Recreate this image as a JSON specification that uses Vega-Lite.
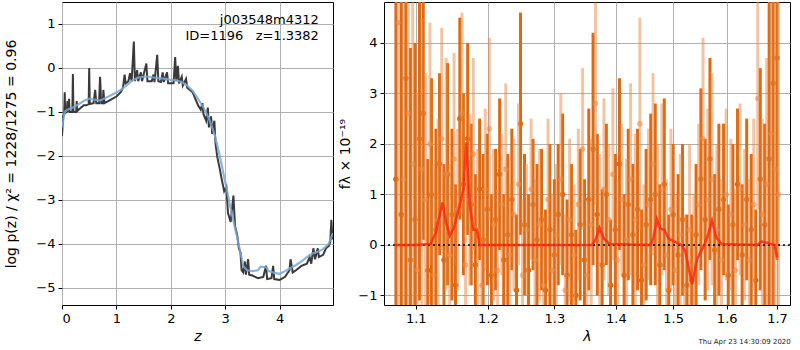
{
  "$schema": "https://vega.github.io/schema/vega-lite/v6.json",
  "padding": {"left": 4, "top": 1, "right": 3, "bottom": 0},
  "spacing": 4,
  "config": {
    "font": "DejaVu Sans",
    "view": {"stroke": "black", "strokeWidth": 1},
    "axis": {"grid": true, "gridColor": "#b0b0b0", "gridWidth": 1, "domain": false, "tickColor": "black", "tickSize": 4, "labelFontSize": 13, "labelColor": "black", "titleFontSize": 14, "titleFontWeight": "normal", "titleColor": "black", "labelPadding": 3}
  },
  "datasets": {
    "pzdark": [
      {"z":0.00,"v":-1.55},{"z":0.02,"v":-1.1},{"z":0.04,"v":-1.05},{"z":0.05,"v":-0.55},{"z":0.06,"v":-1.02},{"z":0.09,"v":-1.0},{"z":0.10,"v":-0.75},{"z":0.11,"v":-1.0},{"z":0.13,"v":-0.7},{"z":0.14,"v":-1.0},{"z":0.19,"v":-1.0},{"z":0.20,"v":-0.14},{"z":0.21,"v":-1.0},{"z":0.26,"v":-1.0},{"z":0.27,"v":-0.75},{"z":0.28,"v":-0.98},{"z":0.35,"v":-0.9},{"z":0.40,"v":-0.85},{"z":0.45,"v":-0.85},{"z":0.49,"v":-0.82},{"z":0.50,"v":0.0},{"z":0.51,"v":-0.82},{"z":0.58,"v":-0.8},{"z":0.61,"v":-0.5},{"z":0.63,"v":-0.8},{"z":0.68,"v":-0.8},{"z":0.70,"v":-0.2},{"z":0.72,"v":-0.8},{"z":0.75,"v":-0.8},{"z":0.76,"v":-0.5},{"z":0.78,"v":-0.8},{"z":0.90,"v":-0.72},{"z":1.00,"v":-0.65},{"z":1.08,"v":-0.55},{"z":1.12,"v":-0.45},{"z":1.15,"v":-0.15},{"z":1.17,"v":-0.35},{"z":1.22,"v":-0.3},{"z":1.25,"v":-0.12},{"z":1.28,"v":-0.3},{"z":1.32,"v":0.6},{"z":1.34,"v":-0.3},{"z":1.38,"v":-0.05},{"z":1.40,"v":-0.3},{"z":1.45,"v":-0.1},{"z":1.47,"v":-0.3},{"z":1.55,"v":0.1},{"z":1.57,"v":-0.3},{"z":1.65,"v":-0.3},{"z":1.68,"v":-0.15},{"z":1.70,"v":-0.32},{"z":1.75,"v":0.3},{"z":1.77,"v":-0.3},{"z":1.82,"v":-0.32},{"z":1.85,"v":-0.1},{"z":1.87,"v":-0.32},{"z":1.93,"v":-0.1},{"z":1.95,"v":-0.35},{"z":2.05,"v":-0.35},{"z":2.08,"v":0.25},{"z":2.10,"v":-0.3},{"z":2.13,"v":0.05},{"z":2.15,"v":-0.35},{"z":2.20,"v":-0.2},{"z":2.22,"v":-0.4},{"z":2.28,"v":-0.25},{"z":2.30,"v":-0.45},{"z":2.35,"v":-0.5},{"z":2.40,"v":-0.55},{"z":2.45,"v":-0.7},{"z":2.50,"v":-0.85},{"z":2.55,"v":-0.95},{"z":2.58,"v":-0.8},{"z":2.60,"v":-1.05},{"z":2.65,"v":-1.2},{"z":2.68,"v":-0.9},{"z":2.70,"v":-1.35},{"z":2.74,"v":-1.1},{"z":2.76,"v":-1.5},{"z":2.80,"v":-1.2},{"z":2.82,"v":-1.7},{"z":2.85,"v":-2.0},{"z":2.90,"v":-2.3},{"z":2.93,"v":-2.5},{"z":2.98,"v":-2.8},{"z":3.02,"v":-2.7},{"z":3.05,"v":-3.3},{"z":3.10,"v":-3.5},{"z":3.15,"v":-2.9},{"z":3.18,"v":-3.6},{"z":3.22,"v":-3.8},{"z":3.25,"v":-4.1},{"z":3.28,"v":-4.2},{"z":3.30,"v":-4.6},{"z":3.33,"v":-4.65},{"z":3.36,"v":-4.4},{"z":3.38,"v":-4.7},{"z":3.42,"v":-4.35},{"z":3.44,"v":-4.7},{"z":3.50,"v":-4.72},{"z":3.60,"v":-4.78},{"z":3.70,"v":-4.75},{"z":3.75,"v":-4.5},{"z":3.77,"v":-4.8},{"z":3.85,"v":-4.78},{"z":3.88,"v":-4.5},{"z":3.90,"v":-4.8},{"z":4.00,"v":-4.82},{"z":4.10,"v":-4.75},{"z":4.18,"v":-4.6},{"z":4.20,"v":-4.35},{"z":4.24,"v":-4.65},{"z":4.30,"v":-4.6},{"z":4.40,"v":-4.5},{"z":4.50,"v":-4.45},{"z":4.55,"v":-4.3},{"z":4.58,"v":-4.45},{"z":4.62,"v":-4.1},{"z":4.65,"v":-4.35},{"z":4.70,"v":-4.1},{"z":4.72,"v":-4.3},{"z":4.80,"v":-4.25},{"z":4.85,"v":-4.1},{"z":4.90,"v":-4.05},{"z":4.93,"v":-3.95},{"z":4.95,"v":-3.45},{"z":4.97,"v":-3.9},{"z":4.98,"v":-3.8}
    ],
    "pzblue": [
      {"z":0,"v":-1.35},{"z":0.05,"v":-1.0},{"z":0.1,"v":-0.95},{"z":0.2,"v":-0.9},{"z":0.3,"v":-0.83},{"z":0.4,"v":-0.75},{"z":0.5,"v":-0.7},{"z":0.6,"v":-0.72},{"z":0.7,"v":-0.74},{"z":0.8,"v":-0.68},{"z":0.9,"v":-0.62},{"z":1.0,"v":-0.56},{"z":1.1,"v":-0.48},{"z":1.2,"v":-0.38},{"z":1.3,"v":-0.28},{"z":1.4,"v":-0.22},{"z":1.5,"v":-0.2},{"z":1.6,"v":-0.2},{"z":1.7,"v":-0.22},{"z":1.8,"v":-0.23},{"z":1.9,"v":-0.25},{"z":2.0,"v":-0.27},{"z":2.1,"v":-0.28},{"z":2.2,"v":-0.32},{"z":2.3,"v":-0.4},{"z":2.4,"v":-0.52},{"z":2.5,"v":-0.7},{"z":2.6,"v":-0.9},{"z":2.7,"v":-1.15},{"z":2.8,"v":-1.5},{"z":2.9,"v":-2.0},{"z":3.0,"v":-2.6},{"z":3.1,"v":-3.2},{"z":3.2,"v":-3.75},{"z":3.28,"v":-4.2},{"z":3.33,"v":-4.5},{"z":3.4,"v":-4.6},{"z":3.5,"v":-4.62},{"z":3.6,"v":-4.6},{"z":3.65,"v":-4.52},{"z":3.75,"v":-4.53},{"z":3.8,"v":-4.62},{"z":3.9,"v":-4.66},{"z":4.0,"v":-4.68},{"z":4.1,"v":-4.62},{"z":4.2,"v":-4.55},{"z":4.3,"v":-4.48},{"z":4.4,"v":-4.4},{"z":4.5,"v":-4.3},{"z":4.6,"v":-4.22},{"z":4.7,"v":-4.18},{"z":4.8,"v":-4.12},{"z":4.9,"v":-4.0},{"z":4.98,"v":-3.75}
    ],
    "dark": [
      {"l":1.074,"f":1.3,"lo":-4.2,"hi":6.8},{"l":1.081,"f":0.6,"lo":-3.9,"hi":5.1},{"l":1.087,"f":3.3,"lo":-1.7,"hi":8.3},{"l":1.093,"f":-0.3,"lo":-4.5,"hi":3.9},{"l":1.099,"f":0.5,"lo":-3.0,"hi":4.0},{"l":1.105,"f":2.1,"lo":-1.1,"hi":5.3},{"l":1.110,"f":2.6,"lo":0.1,"hi":5.1},{"l":1.116,"f":-0.5,"lo":-2.7,"hi":1.7},{"l":1.121,"f":1.0,"lo":-1.3,"hi":3.3},{"l":1.127,"f":0.3,"lo":-1.7,"hi":2.3},{"l":1.132,"f":1.6,"lo":-0.2,"hi":3.4},{"l":1.138,"f":-0.3,"lo":-2.2,"hi":1.6},{"l":1.143,"f":1.4,"lo":-0.8,"hi":3.6},{"l":1.149,"f":0.6,"lo":-1.1,"hi":2.3},{"l":1.154,"f":-0.8,"lo":-2.8,"hi":1.2},{"l":1.160,"f":2.5,"lo":0.5,"hi":4.5},{"l":1.165,"f":1.2,"lo":-0.6,"hi":3.0},{"l":1.171,"f":2.1,"lo":0.2,"hi":4.0},{"l":1.176,"f":0.8,"lo":-0.8,"hi":2.4},{"l":1.182,"f":-0.4,"lo":-2.2,"hi":1.4},{"l":1.188,"f":1.1,"lo":-0.3,"hi":2.5},{"l":1.193,"f":0.1,"lo":-1.6,"hi":1.8},{"l":1.199,"f":0.7,"lo":-0.8,"hi":2.2},{"l":1.205,"f":-0.6,"lo":-2.2,"hi":1.0},{"l":1.211,"f":0.5,"lo":-0.9,"hi":1.9},{"l":1.217,"f":1.4,"lo":-0.1,"hi":2.9},{"l":1.223,"f":-0.3,"lo":-1.6,"hi":1.0},{"l":1.229,"f":0.2,"lo":-1.4,"hi":1.8},{"l":1.235,"f":0.9,"lo":-0.5,"hi":2.3},{"l":1.242,"f":-0.9,"lo":-2.4,"hi":0.6},{"l":1.248,"f":2.4,"lo":0.2,"hi":4.6},{"l":1.254,"f":0.4,"lo":-1.0,"hi":1.8},{"l":1.260,"f":-0.5,"lo":-2.0,"hi":1.0},{"l":1.267,"f":0.8,"lo":-0.5,"hi":2.1},{"l":1.273,"f":0.1,"lo":-1.4,"hi":1.6},{"l":1.280,"f":0.5,"lo":-0.9,"hi":1.9},{"l":1.286,"f":-0.9,"lo":-2.5,"hi":0.7},{"l":1.293,"f":0.3,"lo":-1.4,"hi":2.0},{"l":1.300,"f":-0.2,"lo":-1.7,"hi":1.3},{"l":1.306,"f":0.6,"lo":-0.8,"hi":2.0},{"l":1.313,"f":1.0,"lo":-0.6,"hi":2.6},{"l":1.320,"f":-0.6,"lo":-2.1,"hi":0.9},{"l":1.327,"f":0.2,"lo":-1.2,"hi":1.6},{"l":1.334,"f":-1.0,"lo":-2.3,"hi":0.3},{"l":1.341,"f":0.4,"lo":-1.1,"hi":1.9},{"l":1.348,"f":-0.3,"lo":-1.9,"hi":1.3},{"l":1.355,"f":0.9,"lo":-0.9,"hi":2.7},{"l":1.362,"f":1.9,"lo":-0.4,"hi":4.2},{"l":1.369,"f":0.6,"lo":-1.0,"hi":2.2},{"l":1.377,"f":-0.4,"lo":-1.9,"hi":1.1},{"l":1.384,"f":1.0,"lo":-0.4,"hi":2.4},{"l":1.391,"f":-0.8,"lo":-2.1,"hi":0.5},{"l":1.399,"f":0.3,"lo":-1.2,"hi":1.8},{"l":1.406,"f":1.6,"lo":-0.1,"hi":3.3},{"l":1.414,"f":-0.6,"lo":-2.2,"hi":1.0},{"l":1.421,"f":0.8,"lo":-0.7,"hi":2.3},{"l":1.429,"f":0.2,"lo":-1.2,"hi":1.6},{"l":1.437,"f":0.7,"lo":-0.9,"hi":2.3},{"l":1.444,"f":-0.7,"lo":-2.1,"hi":0.7},{"l":1.452,"f":0.4,"lo":-1.1,"hi":1.9},{"l":1.460,"f":0.9,"lo":-0.8,"hi":2.6},{"l":1.468,"f":1.0,"lo":-0.8,"hi":2.8},{"l":1.476,"f":-0.4,"lo":-2.0,"hi":1.2},{"l":1.484,"f":1.2,"lo":-0.5,"hi":2.9},{"l":1.492,"f":-0.9,"lo":-2.4,"hi":0.6},{"l":1.500,"f":0.6,"lo":-0.8,"hi":2.0},{"l":1.509,"f":-0.2,"lo":-1.8,"hi":1.4},{"l":1.517,"f":0.5,"lo":-1.0,"hi":2.0},{"l":1.525,"f":-0.8,"lo":-2.2,"hi":0.6},{"l":1.534,"f":-0.7,"lo":-2.0,"hi":0.6},{"l":1.542,"f":0.2,"lo":-1.2,"hi":1.6},{"l":1.551,"f":1.3,"lo":-0.5,"hi":3.1},{"l":1.559,"f":0.5,"lo":-1.1,"hi":2.1},{"l":1.568,"f":1.7,"lo":-0.3,"hi":3.7},{"l":1.577,"f":-0.1,"lo":-1.6,"hi":1.4},{"l":1.585,"f":0.7,"lo":-1.0,"hi":2.4},{"l":1.594,"f":0.9,"lo":-0.6,"hi":2.4},{"l":1.603,"f":-0.6,"lo":-2.0,"hi":0.8},{"l":1.612,"f":0.4,"lo":-1.2,"hi":2.0},{"l":1.621,"f":1.2,"lo":-0.3,"hi":2.7},{"l":1.630,"f":-0.2,"lo":-1.6,"hi":1.2},{"l":1.639,"f":0.9,"lo":-0.7,"hi":2.5},{"l":1.648,"f":0.3,"lo":-1.2,"hi":1.8},{"l":1.657,"f":-0.7,"lo":-2.1,"hi":0.7},{"l":1.666,"f":1.3,"lo":-0.9,"hi":3.5},{"l":1.675,"f":0.4,"lo":-1.6,"hi":2.4},{"l":1.684,"f":1.7,"lo":-1.8,"hi":5.2},{"l":1.692,"f":3.2,"lo":-1.3,"hi":7.7},{"l":1.700,"f":3.7,"lo":-0.3,"hi":7.7}
    ],
    "light": [
      {"l":1.077,"f":4.4,"lo":-1.6,"hi":10.4},{"l":1.084,"f":1.3,"lo":-3.7,"hi":6.3},{"l":1.090,"f":2.6,"lo":-1.9,"hi":7.1},{"l":1.096,"f":1.6,"lo":-2.4,"hi":5.6},{"l":1.102,"f":-0.5,"lo":-4.0,"hi":3.0},{"l":1.108,"f":1.5,"lo":-1.5,"hi":4.5},{"l":1.113,"f":0.9,"lo":-1.6,"hi":3.4},{"l":1.119,"f":2.0,"lo":-0.4,"hi":4.4},{"l":1.124,"f":-0.6,"lo":-2.8,"hi":1.6},{"l":1.130,"f":0.5,"lo":-1.5,"hi":2.5},{"l":1.135,"f":2.1,"lo":-0.1,"hi":4.3},{"l":1.141,"f":1.4,"lo":-0.9,"hi":3.7},{"l":1.146,"f":-0.2,"lo":-2.0,"hi":1.6},{"l":1.152,"f":1.7,"lo":-0.4,"hi":3.8},{"l":1.157,"f":0.7,"lo":-0.9,"hi":2.3},{"l":1.163,"f":2.6,"lo":0.6,"hi":4.6},{"l":1.168,"f":-0.4,"lo":-2.2,"hi":1.4},{"l":1.174,"f":0.9,"lo":-0.8,"hi":2.6},{"l":1.179,"f":1.8,"lo":-0.1,"hi":3.7},{"l":1.185,"f":0.3,"lo":-1.3,"hi":1.9},{"l":1.191,"f":-0.8,"lo":-2.5,"hi":0.9},{"l":1.196,"f":1.1,"lo":-0.5,"hi":2.7},{"l":1.202,"f":2.3,"lo":0.5,"hi":4.1},{"l":1.208,"f":0.4,"lo":-1.1,"hi":1.9},{"l":1.214,"f":-0.5,"lo":-2.1,"hi":1.1},{"l":1.220,"f":0.8,"lo":-0.6,"hi":2.2},{"l":1.226,"f":1.5,"lo":-0.2,"hi":3.2},{"l":1.232,"f":-0.2,"lo":-1.6,"hi":1.2},{"l":1.238,"f":0.6,"lo":-0.9,"hi":2.1},{"l":1.245,"f":1.2,"lo":-0.4,"hi":2.8},{"l":1.251,"f":-0.6,"lo":-2.1,"hi":0.9},{"l":1.257,"f":0.3,"lo":-1.0,"hi":1.6},{"l":1.264,"f":1.1,"lo":-0.3,"hi":2.5},{"l":1.270,"f":-0.3,"lo":-1.9,"hi":1.3},{"l":1.277,"f":0.4,"lo":-1.1,"hi":1.9},{"l":1.283,"f":-0.8,"lo":-2.2,"hi":0.6},{"l":1.290,"f":0.9,"lo":-0.7,"hi":2.5},{"l":1.297,"f":-0.5,"lo":-2.0,"hi":1.0},{"l":1.303,"f":0.2,"lo":-1.2,"hi":1.6},{"l":1.310,"f":1.3,"lo":-0.4,"hi":3.0},{"l":1.317,"f":-0.9,"lo":-2.4,"hi":0.6},{"l":1.324,"f":0.5,"lo":-1.1,"hi":2.1},{"l":1.331,"f":-0.2,"lo":-1.6,"hi":1.2},{"l":1.338,"f":0.8,"lo":-0.7,"hi":2.3},{"l":1.345,"f":1.9,"lo":0.3,"hi":3.5},{"l":1.352,"f":-0.6,"lo":-2.1,"hi":0.9},{"l":1.359,"f":0.4,"lo":-1.3,"hi":2.1},{"l":1.366,"f":2.8,"lo":0.8,"hi":4.8},{"l":1.373,"f":0.2,"lo":-1.4,"hi":1.8},{"l":1.380,"f":1.1,"lo":-0.7,"hi":2.9},{"l":1.388,"f":0.5,"lo":-1.0,"hi":2.0},{"l":1.395,"f":1.4,"lo":-0.3,"hi":3.1},{"l":1.403,"f":-0.3,"lo":-1.9,"hi":1.3},{"l":1.410,"f":0.9,"lo":-0.6,"hi":2.4},{"l":1.418,"f":0.1,"lo":-1.5,"hi":1.7},{"l":1.425,"f":1.3,"lo":-0.6,"hi":3.2},{"l":1.433,"f":0.5,"lo":-1.2,"hi":2.2},{"l":1.441,"f":2.4,"lo":0.3,"hi":4.5},{"l":1.448,"f":-0.4,"lo":-2.0,"hi":1.2},{"l":1.456,"f":0.8,"lo":-0.7,"hi":2.3},{"l":1.464,"f":1.6,"lo":-0.2,"hi":3.4},{"l":1.472,"f":0.4,"lo":-1.2,"hi":2.0},{"l":1.480,"f":1.1,"lo":-0.6,"hi":2.8},{"l":1.488,"f":-0.2,"lo":-1.7,"hi":1.3},{"l":1.496,"f":0.7,"lo":-0.9,"hi":2.3},{"l":1.504,"f":-0.5,"lo":-2.0,"hi":1.0},{"l":1.513,"f":0.2,"lo":-1.4,"hi":1.8},{"l":1.521,"f":-0.9,"lo":-2.4,"hi":0.6},{"l":1.530,"f":0.3,"lo":-1.4,"hi":2.0},{"l":1.538,"f":-0.4,"lo":-1.8,"hi":1.0},{"l":1.547,"f":0.8,"lo":-0.8,"hi":2.4},{"l":1.555,"f":2.1,"lo":0.1,"hi":4.1},{"l":1.564,"f":0.9,"lo":-0.9,"hi":2.7},{"l":1.572,"f":1.3,"lo":-0.8,"hi":3.4},{"l":1.581,"f":0.3,"lo":-1.4,"hi":2.0},{"l":1.590,"f":-0.3,"lo":-1.9,"hi":1.3},{"l":1.599,"f":1.0,"lo":-0.7,"hi":2.7},{"l":1.608,"f":0.6,"lo":-0.9,"hi":2.1},{"l":1.617,"f":-0.5,"lo":-2.1,"hi":1.1},{"l":1.626,"f":1.1,"lo":-0.6,"hi":2.8},{"l":1.635,"f":0.4,"lo":-1.1,"hi":1.9},{"l":1.644,"f":-0.3,"lo":-1.9,"hi":1.3},{"l":1.653,"f":0.8,"lo":-0.9,"hi":2.5},{"l":1.661,"f":2.9,"lo":0.7,"hi":5.1},{"l":1.670,"f":0.6,"lo":-1.3,"hi":2.5},{"l":1.679,"f":1.2,"lo":-1.3,"hi":3.7},{"l":1.688,"f":2.2,"lo":-2.8,"hi":7.2},{"l":1.696,"f":1.5,"lo":-4.5,"hi":7.5},{"l":1.703,"f":1.0,"lo":-5.0,"hi":7.0}
    ],
    "model": [
      {"l":1.0724,"m":0},{"l":1.10,"m":0},{"l":1.12,"m":0.02},{"l":1.127,"m":0.25},{"l":1.1359,"m":0.84},{"l":1.141,"m":0.45},{"l":1.146,"m":0.18},{"l":1.152,"m":0.35},{"l":1.160,"m":0.8},{"l":1.165,"m":1.1},{"l":1.169,"m":2.03},{"l":1.174,"m":0.8},{"l":1.179,"m":0.3},{"l":1.184,"m":0.3},{"l":1.188,"m":0.0},{"l":1.36,"m":0.0},{"l":1.366,"m":0.1},{"l":1.3726,"m":0.34},{"l":1.38,"m":0.12},{"l":1.39,"m":0.02},{"l":1.46,"m":0.0},{"l":1.465,"m":0.15},{"l":1.471,"m":0.51},{"l":1.477,"m":0.32},{"l":1.484,"m":0.3},{"l":1.492,"m":0.12},{"l":1.505,"m":0.05},{"l":1.515,"m":0.0},{"l":1.522,"m":-0.12},{"l":1.5345,"m":-0.78},{"l":1.544,"m":-0.28},{"l":1.555,"m":-0.05},{"l":1.563,"m":0.15},{"l":1.572,"m":0.48},{"l":1.58,"m":0.15},{"l":1.59,"m":0.02},{"l":1.66,"m":0.0},{"l":1.669,"m":0.07},{"l":1.68,"m":0.04},{"l":1.695,"m":0.0},{"l":1.70,"m":-0.25}
    ]
  },
  "hconcat": [
    {
      "width": 271,
      "height": 303,
      "layer": [
        {
          "data": {"name": "pzdark"},
          "mark": {"type": "line", "color": "#3a3a3a", "strokeWidth": 2, "clip": true},
          "encoding": {
            "x": {"field": "z", "type": "quantitative", "scale": {"domain": [0, 4.98], "nice": false, "zero": false}, "axis": {"values": [0, 1, 2, 3, 4], "title": "z", "titleFontStyle": "italic"}},
            "y": {"field": "v", "type": "quantitative", "scale": {"domain": [-5.39, 1.5], "nice": false, "zero": false}, "axis": {"values": [-5, -4, -3, -2, -1, 0, 1], "title": "log p(z) / χ² = 1228/1275 = 0.96", "titlePadding": 17}}
          }
        },
        {
          "data": {"name": "pzblue"},
          "mark": {"type": "line", "color": "#7ba7d4", "strokeWidth": 2.2, "opacity": 0.85, "clip": true},
          "encoding": {
            "x": {"field": "z", "type": "quantitative"},
            "y": {"field": "v", "type": "quantitative"}
          }
        },
        {
          "data": {"values": [{}]},
          "mark": {"type": "text", "align": "right", "baseline": "middle", "fontSize": 13, "color": "black"},
          "encoding": {"x": {"datum": 4.72, "type": "quantitative"}, "y": {"datum": 1.09, "type": "quantitative"}, "text": {"value": "j003548m4312"}}
        },
        {
          "data": {"values": [{}]},
          "mark": {"type": "text", "align": "right", "baseline": "middle", "fontSize": 13, "color": "black"},
          "encoding": {"x": {"datum": 4.72, "type": "quantitative"}, "y": {"datum": 0.73, "type": "quantitative"}, "text": {"value": "ID=1196\u00a0\u00a0\u00a0z=1.3382"}}
        }
      ]
    },
    {
      "width": 406,
      "height": 303,
      "title": {"text": "Thu Apr 23 14:30:09 2020", "orient": "bottom", "anchor": "end", "fontSize": 7, "fontWeight": "normal", "color": "#222", "offset": -5},
      "layer": [
        {
          "data": {"name": "dark"},
          "mark": {"type": "rule", "color": "#dd6a12", "strokeWidth": 3, "clip": true},
          "encoding": {
            "x": {"field": "l", "type": "quantitative", "scale": {"type": "log", "domain": [1.0587, 1.7268], "nice": false}, "axis": {"values": [1.1, 1.2, 1.3, 1.4, 1.5, 1.6, 1.7], "format": ".1f", "title": "λ", "titleFontStyle": "italic"}},
            "y": {"field": "lo", "type": "quantitative", "scale": {"domain": [-1.19, 4.81], "nice": false, "zero": false}, "axis": {"values": [-1, 0, 1, 2, 3, 4], "title": "fλ × 10⁻¹⁹", "titlePadding": 5}},
            "y2": {"field": "hi"}
          }
        },
        {
          "data": {"name": "dark"},
          "mark": {"type": "point", "filled": true, "size": 30, "color": "#dd6a12", "opacity": 1, "clip": true},
          "encoding": {
            "x": {"field": "l", "type": "quantitative"},
            "y": {"field": "f", "type": "quantitative"}
          }
        },
        {
          "data": {"name": "light"},
          "mark": {"type": "rule", "color": "#e98a45", "strokeWidth": 3, "opacity": 0.5, "clip": true},
          "encoding": {
            "x": {"field": "l", "type": "quantitative"},
            "y": {"field": "lo", "type": "quantitative"},
            "y2": {"field": "hi"}
          }
        },
        {
          "data": {"name": "light"},
          "mark": {"type": "point", "filled": true, "size": 30, "color": "#e98a45", "opacity": 0.6, "clip": true},
          "encoding": {
            "x": {"field": "l", "type": "quantitative"},
            "y": {"field": "f", "type": "quantitative"}
          }
        },
        {
          "data": {"values": [{}]},
          "mark": {"type": "rule", "color": "black", "strokeWidth": 1.5, "strokeDash": [2, 3]},
          "encoding": {"y": {"datum": 0, "type": "quantitative"}}
        },
        {
          "data": {"name": "model"},
          "mark": {"type": "line", "color": "#ff2a10", "strokeWidth": 2.5, "opacity": 0.85, "clip": true},
          "encoding": {
            "x": {"field": "l", "type": "quantitative"},
            "y": {"field": "m", "type": "quantitative"}
          }
        }
      ]
    }
  ]
}
